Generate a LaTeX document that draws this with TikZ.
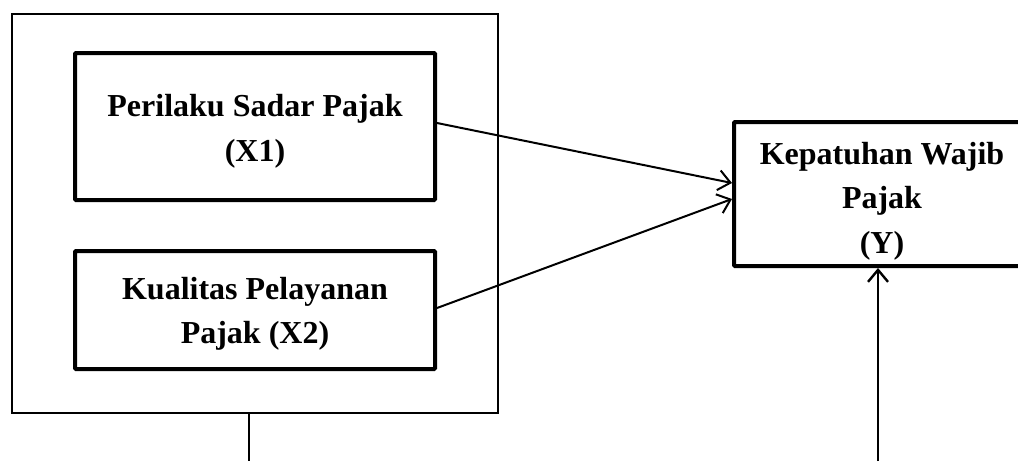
\documentclass[tikz,border=0pt]{standalone}
\usepackage{fontspec}
\setmainfont{Liberation Serif}
\usetikzlibrary{arrows.meta}
\begin{document}
\begin{tikzpicture}[x=1pt,y=-1pt,
  varbox/.style={draw,line width=4pt,rounded corners=1pt,inner sep=0pt},
  txt/.style={align=center,inner sep=0pt,font=\fontsize{32}{44.5}\selectfont\bfseries},
  conn/.style={line width=2pt,-{Straight Barb[length=12pt,width=20pt,line width=2pt]}}]
\useasboundingbox (0,0) rectangle (1018,461);
\node[draw,line width=1.6pt,minimum width=486pt,minimum height=399pt,inner sep=0pt] (outer) at (255,213.5) {};
\node[varbox,minimum width=360pt,minimum height=147pt] (x1) at (255,126.5) {};
\node[varbox,minimum width=360pt,minimum height=118pt] (x2) at (255,310) {};
\node[varbox,minimum width=296pt,minimum height=144pt] (y) at (882,194) {};
\node[txt] (x1t) at ([yshift=-5pt]x1.center) {Perilaku Sadar Pajak\\(X1)};
\node[txt] (x2t) at ([yshift=-4pt]x2.center) {Kualitas Pelayanan\\Pajak (X2)};
\node[txt] (yt) at ([yshift=-7pt]y.center) {Kepatuhan Wajib\\Pajak\\(Y)};
\coordinate (b1) at (249,461);
\coordinate (b2) at (878,461);
\draw[conn] ([yshift=3.5pt]x1.east) -- ([yshift=11pt]y.west);
\draw[conn] ([yshift=2pt]x2.east) -- ([yshift=-5pt]y.west);
\draw[line width=1.6pt] (outer.south -| b1) -- (b1);
\draw[line width=2.4pt,-{Straight Barb[length=12pt,width=20pt,line width=2.4pt]}] (b2) -- (y.south -| b2);
\end{tikzpicture}
\end{document}
